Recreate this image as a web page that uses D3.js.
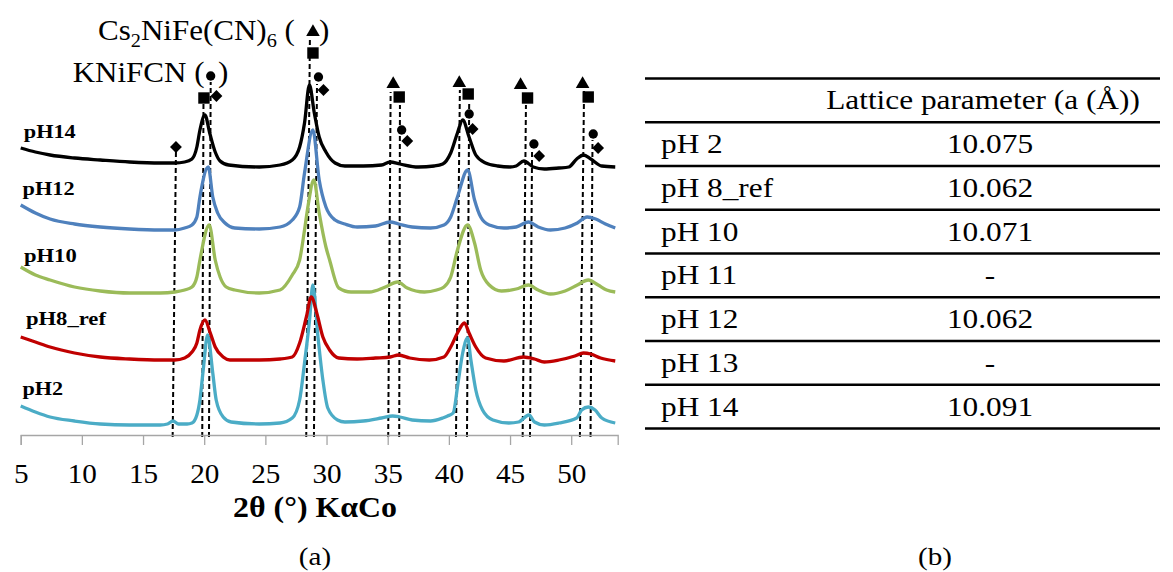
<!DOCTYPE html>
<html><head><meta charset="utf-8">
<script src="https://cdn.jsdelivr.net/npm/d3@7"></script>
<style>
body{margin:0;background:#fff}
svg{display:block}
text{font-family:"Liberation Serif","Times New Roman",serif;fill:#000}
</style>
</head><body>
<svg id="c" width="1173" height="572"></svg>
<script>
// ---------------- DATA ----------------
const xTicks = [5, 10, 15, 20, 25, 30, 35, 40, 45, 50];
const seriesNames = ["pH14", "pH12", "pH10", "pH8_ref", "pH2"];
// [2theta (deg), intensity (a.u., stacked)]
const pH14 = [[5.0,287],[6.2,283],[7.4,280],[9.4,277],[11.5,275],[13.9,273],[16.4,272],[17.6,272],[18.4,273],[19.0,276],[19.4,288],[19.65,305],[20.06,320],[20.45,302],[20.9,283],[21.3,274],[22.0,270],[24.5,268],[26.2,270],[27.2,275],[27.8,288],[28.2,312],[28.6,350],[29.0,322],[29.4,298],[29.95,283],[30.7,272],[31.5,269],[33.0,269],[34.5,270],[35.2,273],[36.0,271],[37.5,268],[38.8,269],[39.5,271],[40.15,282],[40.7,302],[41.13,315],[41.65,298],[42.2,280],[43.0,272],[44.0,269],[45.0,268],[45.5,269],[46.13,274],[46.9,268],[47.8,266],[49.0,267],[49.8,268],[50.45,276],[51.0,280],[51.6,276],[52.5,269],[53.6,268]];
const pH12 = [[5.0,230],[6.2,222],[7.4,216],[9.4,211],[11.5,208],[13.9,206],[16.4,205],[17.6,205],[18.4,207],[19.0,210],[19.4,218],[19.65,238],[20.33,268],[20.7,238],[21.1,222],[21.7,212],[22.5,207],[24.5,206],[26.2,208],[27.2,215],[27.8,228],[28.2,262],[28.88,305],[29.4,255],[29.95,228],[30.7,215],[31.5,211],[32.5,208],[34.0,209],[35.2,213],[35.9,211],[37.0,208],[38.5,207],[39.6,210],[40.15,218],[40.7,238],[41.53,265],[42.1,235],[42.6,218],[43.3,210],[44.5,207],[45.5,208],[46.5,213],[47.3,208],[48.3,205],[49.5,207],[50.5,212],[51.3,218],[52.0,216],[52.8,211],[53.6,207]];
const pH10 = [[5.0,168],[6.2,160],[7.4,155],[9.4,148],[11.5,144],[13.9,142],[16.4,142],[17.6,143],[18.4,145],[19.0,148],[19.4,158],[19.65,175],[20.41,210],[20.9,175],[21.3,158],[21.8,148],[22.5,145],[24.5,142],[26.2,145],[27.2,160],[27.8,175],[28.2,205],[28.5,230],[28.96,255],[29.4,222],[29.95,188],[30.25,175],[31.0,147],[32.0,143],[33.5,143],[34.8,148],[35.8,153],[36.6,147],[38.0,143],[39.0,145],[39.6,148],[40.15,158],[40.7,185],[41.53,210],[42.1,192],[42.6,165],[43.3,150],[44.3,144],[45.5,146],[46.5,150],[47.3,145],[48.3,141],[49.5,144],[50.5,150],[51.4,155],[52.2,150],[52.9,145],[53.6,143]];
const pH8ref = [[5.0,98],[6.2,93],[7.4,88],[9.4,82],[11.5,78],[13.9,76],[16.4,75],[17.6,75],[18.4,77],[19.0,83],[19.4,92],[19.65,105],[20.06,115],[20.5,102],[20.9,88],[21.55,78],[22.1,75],[24.5,75],[26.2,76],[27.2,78],[27.8,92],[28.35,118],[28.75,138],[29.2,122],[29.7,98],[30.25,85],[31.0,77],[32.5,76],[34.0,77],[35.2,78],[35.9,80],[36.8,77],[38.4,75],[39.6,78],[40.15,88],[40.7,102],[41.27,112],[41.65,102],[42.2,88],[43.0,77],[44.5,74],[46.1,78],[47.0,76],[47.8,73],[49.0,75],[50.3,79],[51.0,82],[51.6,81],[52.4,77],[53.6,74]];
const pH2 = [[5.0,29],[6.2,23],[7.4,18],[9.4,14],[11.5,11],[13.9,10],[16.4,10],[17.0,11],[17.45,14],[17.9,11],[18.6,11],[19.0,12],[19.4,20],[19.65,35],[19.92,65],[20.28,100],[20.7,62],[20.98,35],[21.55,18],[22.2,13],[24.5,11],[26.2,12],[27.2,17],[27.8,35],[28.2,72],[28.61,115],[28.88,150],[29.3,98],[29.7,55],[30.1,27],[30.9,15],[31.5,13],[33.0,14],[34.5,17],[35.4,19],[36.0,18],[37.0,15],[38.5,14],[39.5,17],[39.9,19],[40.35,22],[40.75,52],[41.13,82],[41.53,97],[41.8,75],[42.2,45],[42.75,25],[43.6,15],[44.9,12],[45.7,13],[46.54,20],[47.0,13],[47.8,10],[49.0,12],[50.45,17],[50.85,25],[51.4,28],[51.95,25],[52.5,17],[53.6,12]];
const seriesData = [pH14, pH12, pH10, pH8ref, pH2];
// label anchor (2theta, intensity level of label baseline)
const labelTheta = [5.25, 5.15, 5.27, 5.43, 5.15];
const labelLevel = [297, 240, 173, 110, 40];

// reference lines: [2theta at bottom, 2theta at top, intensity at top]
const refLines = [[17.42,17.69,283],[19.84,19.94,331],[20.39,20.53,353],[28.34,28.64,397],[28.97,29.22,351],[35.04,35.24,343],[35.94,36.0,330],[40.58,40.9,345],[41.48,41.66,332],[46.03,46.3,330],[46.63,46.8,285],[50.71,51.05,344],[51.58,51.74,295]];
const triangles = [[28.89,403],[35.45,351],[40.85,352],[45.86,350],[50.93,351]];
const squares = [[19.98,337],[28.89,382],[35.94,338],[41.58,341],[46.43,337],[51.39,338]];
const circles = [[20.53,359],[29.34,358],[36.14,305],[41.66,321],[46.95,291],[51.8,301]];
const diamonds = [[17.69,288],[21.0,339],[29.75,345],[36.6,294],[41.94,306],[47.38,279],[52.2,287]];

const tableHeader = "Lattice parameter (a (Å))";
const tableRows = ["pH 2", "pH 8_ref", "pH 10", "pH 11", "pH 12", "pH 13", "pH 14"];
const tableValues = ["10.075", "10.062", "10.071", "-", "10.062", "-", "10.091"];

// ---------------- STYLE / LAYOUT ----------------
const colors = ["#000000", "#4f81bd", "#9bbb59", "#c00000", "#4bacc6"];
const svg = d3.select("#c");
const x = d3.scaleLinear().domain([5, 53.8]).range([20.7, 617.7]);
const y = d3.scaleLinear().domain([0, 430]).range([435, 5]);

// helper: text with horizontal stretch (the source figure is stretched horizontally)
function txt(parent, px, py, str, size, opts = {}) {
  const g = parent.append("g").attr("transform", `translate(${px},${py}) scale(${opts.sx || 1},1)`);
  const t = g.append("text").attr("text-anchor", opts.anchor || "start")
    .style("font-size", size + "px").style("font-weight", opts.bold ? "bold" : "normal");
  if (str !== null) t.text(str);
  return t;
}

// reference dashed lines (behind curves)
svg.append("g").selectAll("line").data(refLines).join("line")
  .attr("x1", d => x(d[0])).attr("y1", y(-2))
  .attr("x2", d => x(d[1])).attr("y2", d => y(d[2]))
  .attr("stroke", "#000").attr("stroke-width", 2).attr("stroke-dasharray", "5,3");

// curves (draw bottom first so top ones overlay)
const line = d3.line().x(d => x(d[0])).y(d => y(d[1])).curve(d3.curveMonotoneX);
const order = [4, 3, 2, 1, 0];
svg.append("g").selectAll("path").data(order).join("path")
  .attr("d", i => line(seriesData[i]))
  .attr("fill", "none").attr("stroke", i => colors[i])
  .attr("stroke-width", 3.3).attr("stroke-linejoin", "round");

// markers
const mg = svg.append("g").attr("fill", "#000");
const place = d => `translate(${x(d[0])},${y(d[1])})`;
mg.selectAll(".tri").data(triangles).join("path").attr("class","tri")
  .attr("d", d3.symbol(d3.symbolTriangle, 80)).attr("transform", place);
mg.selectAll(".sq").data(squares).join("path").attr("class","sq")
  .attr("d", d3.symbol(d3.symbolSquare, 130)).attr("transform", place);
mg.selectAll(".ci").data(circles).join("path").attr("class","ci")
  .attr("d", d3.symbol(d3.symbolCircle, 68)).attr("transform", place);
mg.selectAll(".di").data(diamonds).join("path").attr("class","di")
  .attr("d", d3.symbol(d3.symbolSquare, 70)).attr("transform", d => place(d) + " rotate(45)");

// x axis
const ax = svg.append("g").attr("transform", `translate(0,${y(0)})`)
  .call(d3.axisBottom(x).tickValues(xTicks).tickSize(10).tickFormat(d3.format("d")));
ax.select(".domain").attr("stroke", "#a6a6a6").attr("stroke-width", 1.3);
ax.selectAll(".tick line").attr("stroke", "#a6a6a6").attr("stroke-width", 1.3);
ax.selectAll(".tick text").attr("y", 48).attr("dy", 0)
  .attr("transform", "scale(1.08,1)").attr("x", 0)
  .style("font-family", '"Liberation Serif", serif').style("font-size", "27px").attr("fill", "#000");

txt(svg, 315, 517, "2θ (°) KαCo", 29, {anchor: "middle", bold: true, sx: 1.1});
txt(svg, 315, 565, "(a)", 26, {anchor: "middle", sx: 1.12});
txt(svg, 935, 565, "(b)", 26, {anchor: "middle", sx: 1.12});

// series labels
const labelWidths = [52, 52, 52.7, 80, 40.6];
svg.append("g").selectAll("text").data(seriesNames).join("text")
  .attr("x", (d, i) => x(labelTheta[i])).attr("y", (d, i) => y(labelLevel[i]))
  .attr("textLength", (d, i) => labelWidths[i]).attr("lengthAdjust", "spacingAndGlyphs")
  .style("font-size", "19px").style("font-weight", "bold").text(d => d);

// phase legends
const t1 = txt(svg, 98, 40, null, 29, {sx: 1.07});
t1.append("tspan").text("Cs");
t1.append("tspan").attr("dy", 7).style("font-size", "19px").text("2");
t1.append("tspan").attr("dy", -7).text("NiFe(CN)");
t1.append("tspan").attr("dy", 7).style("font-size", "19px").text("6");
t1.append("tspan").attr("dy", -7).text(" (");
txt(svg, 319, 40, ")", 29, {sx: 1.07});
txt(svg, 72.7, 82, "KNiFCN (", 29, {sx: 1.07});
txt(svg, 218, 82, ")", 29, {sx: 1.07});

// ---------------- TABLE ----------------
const tg = svg.append("g");
const rowH = 43.75, top0 = 78.5, tL = 645, tR = 1160, tsx = 1.16;
const nLines = tableRows.length + 2;
tg.selectAll("line").data(d3.range(nLines)).join("line")
  .attr("x1", tL).attr("x2", tR)
  .attr("y1", i => top0 + i * rowH).attr("y2", i => top0 + i * rowH)
  .attr("stroke", "#000").attr("stroke-width", 2.5);
txt(tg, 983, top0 + rowH / 2 + 9, tableHeader, 27, {anchor: "middle", sx: tsx});
tableRows.forEach((r, i) => txt(tg, 661, top0 + (i + 1.5) * rowH + 9, r, 27, {sx: tsx}));
tableValues.forEach((v, i) => txt(tg, 990, top0 + (i + 1.5) * rowH + 9, v, 27, {anchor: "middle", sx: tsx}));
</script>
</body></html>
